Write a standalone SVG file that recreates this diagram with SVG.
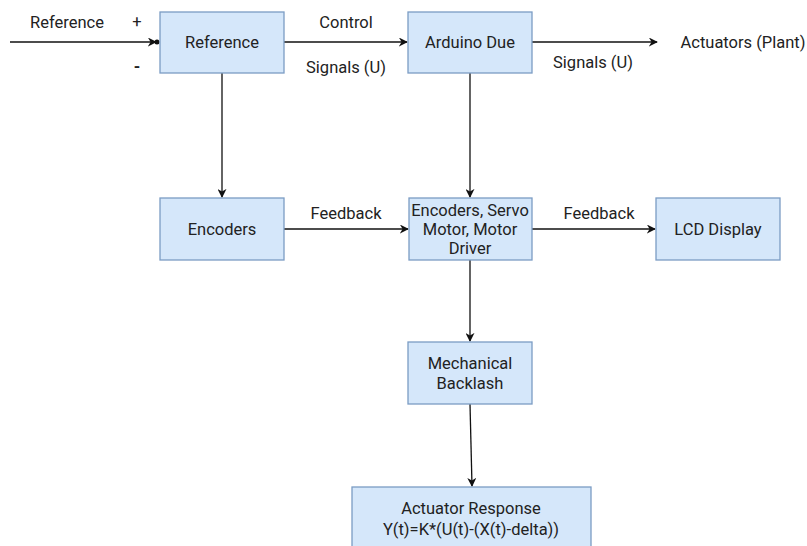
<svg xmlns="http://www.w3.org/2000/svg" width="807" height="546" viewBox="0 0 807 546">
<defs>
<style>
.box{fill:#d5e7fa;stroke:#7b9cc4;stroke-width:1.3}
.t{font-family:Roboto,"Liberation Sans",sans-serif;font-size:16.5px;fill:#222;text-anchor:middle}
.l{fill:none;stroke:#111;stroke-width:1.3}
</style>
<marker id="a" viewBox="0 0 10 10" refX="9" refY="5" markerWidth="9" markerHeight="9" orient="auto" markerUnits="userSpaceOnUse">
<path d="M0,0 L10,5 L0,10 L3,5 Z" fill="#111"/>
</marker>
</defs>
<rect width="807" height="546" fill="#fff"/>
<g id="connectors">
<line class="l" x1="10" y1="42" x2="156" y2="42" marker-end="url(#a)"/>
<circle cx="157" cy="42" r="2.5" fill="#111"/>
<line class="l" x1="284" y1="42" x2="407" y2="42" marker-end="url(#a)"/>
<line class="l" x1="532" y1="42" x2="657" y2="42" marker-end="url(#a)"/>
<line class="l" x1="222" y1="73" x2="222" y2="197" marker-end="url(#a)"/>
<line class="l" x1="470" y1="73" x2="470" y2="197" marker-end="url(#a)"/>
<line class="l" x1="284" y1="229" x2="408" y2="229" marker-end="url(#a)"/>
<line class="l" x1="532" y1="229" x2="655" y2="229" marker-end="url(#a)"/>
<line class="l" x1="470" y1="260" x2="470" y2="341" marker-end="url(#a)"/>
<line class="l" x1="470" y1="404" x2="472" y2="486" marker-end="url(#a)"/>
<text class="t" x="67" y="28">Reference</text>
<text class="t" x="137" y="27">+</text>
<text class="t" x="137" y="72" font-weight="bold">-</text>
<text class="t" x="346" y="28">Control</text>
<text class="t" x="346" y="73">Signals (U)</text>
<text class="t" x="593" y="68">Signals (U)</text>
<text class="t" x="743" y="48">Actuators (Plant)</text>
<text class="t" x="346" y="219">Feedback</text>
<text class="t" x="599" y="219">Feedback</text>
</g>
<g id="reference"><rect class="box" x="160" y="12" width="124" height="61"/><text class="t" x="222" y="48">Reference</text></g>
<g id="arduino"><rect class="box" x="408" y="12" width="124" height="61"/><text class="t" x="470" y="48">Arduino Due</text></g>
<g id="encoders"><rect class="box" x="160" y="198" width="124" height="62"/><text class="t" x="222" y="235">Encoders</text></g>
<g id="servo"><rect class="box" x="409" y="198" width="123" height="62"/><text class="t" x="470" y="216">Encoders, Servo</text><text class="t" x="470" y="235">Motor, Motor</text><text class="t" x="470" y="254">Driver</text></g>
<g id="lcd"><rect class="box" x="656" y="198" width="124" height="62"/><text class="t" x="718" y="235">LCD Display</text></g>
<g id="backlash"><rect class="box" x="408" y="342" width="124" height="62"/><text class="t" x="470" y="369">Mechanical</text><text class="t" x="470" y="389">Backlash</text></g>
<g id="response"><rect class="box" x="352" y="487" width="239" height="70"/><text class="t" x="471" y="514">Actuator Response</text><text class="t" x="471" y="535">Y(t)=K*(U(t)-(X(t)-delta))</text></g>
</svg>
